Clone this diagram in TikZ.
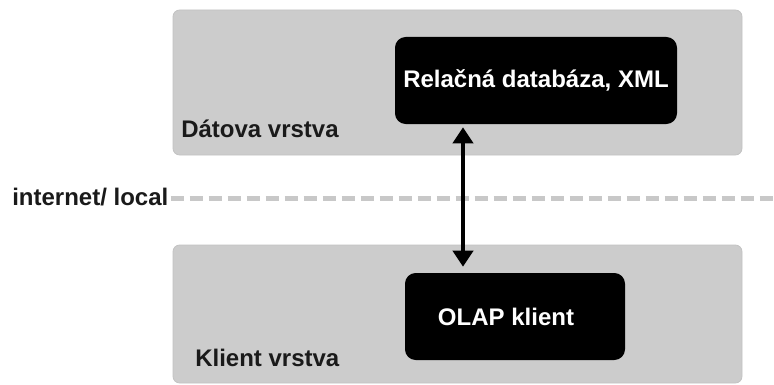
\documentclass[tikz,border=0pt]{standalone}
\usepackage{fontspec}
\setmainfont{Liberation Sans}
\usetikzlibrary{arrows.meta, positioning}
\definecolor{cLayer}{HTML}{CCCCCC}
\definecolor{cLayerEdge}{HTML}{C2C2C2}
\definecolor{cDash}{HTML}{C8C8C8}
\definecolor{cInk}{HTML}{1A1A1A}

\begin{document}
\begin{tikzpicture}[
    x=0.75pt, y=-0.75pt,
    font=\fontsize{18}{21}\selectfont\bfseries,
    layer/.style={fill=cLayer, draw=cLayerEdge, line width=0.6pt,
                  rounded corners=5pt, inner sep=0pt},
    blackbox/.style={fill=black, text=white, rounded corners=8pt,
                     inner sep=0pt, minimum height=65.25pt},
    lbl/.style={anchor=base west, inner sep=0pt, text=cInk},
    arr/.style={{Triangle[width=15pt,length=12pt]}-{Triangle[width=15pt,length=12pt]},
                line width=3.6pt, shorten <=2.25pt, shorten >=4.5pt},
    sep/.style={cDash, line width=3.75pt, dash pattern=on 9.75pt off 4.5pt},
]
\useasboundingbox (0,0) rectangle (774,385);

% ================================================================
%  Layers
% ================================================================

\node[layer, minimum width=426.75pt, minimum height=108.75pt] (datalayer)
    at (457.5,82.5) {};
\node[layer, minimum width=426.75pt, minimum height=103.5pt] (clientlayer)
    at (457.5,314) {};

\node[lbl] (datalbl)   at (181,137) {Dátova vrstva};
\node[lbl] (clientlbl) at (195,366) {Klient vrstva};

% ================================================================
%  Components
% ================================================================

\node[blackbox, minimum width=211.5pt] (db) at (536,80.5)
    {Relačná databáza, XML};
\node[blackbox, minimum width=165pt] (olap) at (515,316.5)
    {\hspace*{-13.5pt}OLAP klient};

% ================================================================
%  Network boundary
% ================================================================

\node[lbl] (net) at (12,205) {internet/ local};
\coordinate (netend) at (774,198);
\draw[sep] ([xshift=1.5pt]net.east |- netend) -- (netend);

% DB <-> client
\coordinate (link) at (463,0);
\draw[arr] (db.south -| link) -- (olap.north -| link);

\end{tikzpicture}
\end{document}
